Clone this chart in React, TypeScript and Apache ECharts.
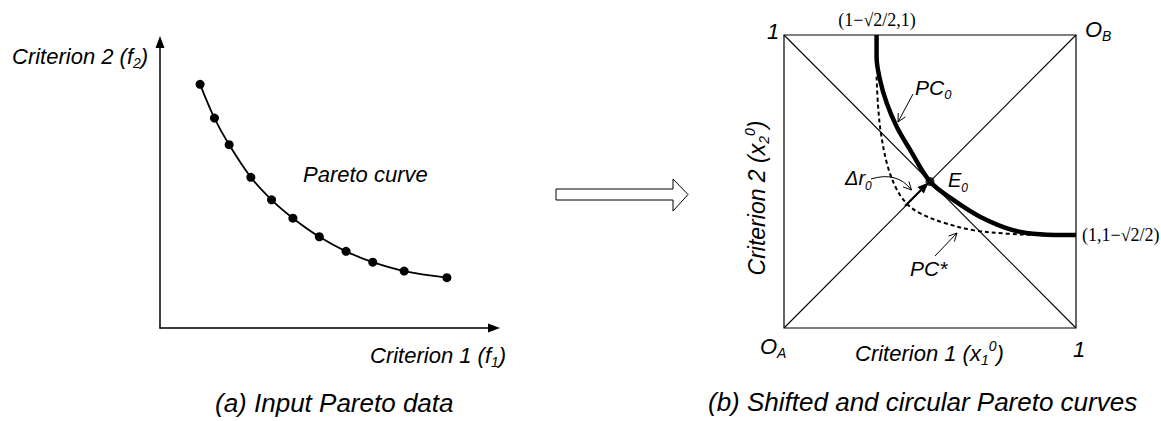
import React, { useEffect, useRef } from "react";
import * as echarts from "echarts";

// ---- data ----
// (a) input Pareto data, axis units 0..10
const paretoF1 = [1.2, 1.63, 2.07, 2.72, 3.34, 3.98, 4.77, 5.57, 6.37, 7.31, 8.59];
const paretoF2 = [8.52, 7.34, 6.41, 5.27, 4.48, 3.84, 3.19, 2.68, 2.3, 1.99, 1.76];

// (b) normalized box 0..1
const pc0X = [0.317, 0.317, 0.329, 0.352, 0.386, 0.432, 0.5, 0.58, 0.671, 0.784, 0.877, 1.0];
const pc0Y = [1.0, 0.926, 0.846, 0.767, 0.687, 0.608, 0.5, 0.437, 0.38, 0.334, 0.32, 0.317];

const pcStarX = [0.317, 0.322, 0.332, 0.354, 0.385, 0.42, 0.465, 0.545, 0.648, 0.763, 0.877, 0.95];
const pcStarY = [0.858, 0.76, 0.664, 0.556, 0.475, 0.425, 0.392, 0.36, 0.334, 0.322, 0.317, 0.316];

const diagA = [[0, 0], [1, 1]];
const diagB = [[0, 1], [1, 0]];
const equilibrium = [[0.5, 0.5]];

const zip = (a: number[], b: number[]) => a.map((v, i) => [v, b[i]]);

const SANS = "Liberation Sans, Arial, sans-serif";
const SERIF = "Liberation Serif, Times New Roman, serif";

function richFor(size: number) {
  const subSize = Math.round(size * 0.62);
  return {
    m: { fontSize: size, fontStyle: "italic", fontFamily: SANS, fill: "#000", lineHeight: 28 },
    s: { fontSize: subSize, fontStyle: "italic", fontFamily: SANS, fill: "#000", lineHeight: 20, verticalAlign: "bottom" },
    p: { fontSize: subSize, fontStyle: "italic", fontFamily: SANS, fill: "#000", lineHeight: 8, verticalAlign: "top" },
  };
}

function label(x: number, y: number, text: string, size: number, extra: any = {}) {
  return {
    type: "text",
    x,
    y,
    z: 100,
    ...extra,
    style: {
      text,
      fill: "#000",
      fontSize: size,
      fontStyle: "italic",
      fontFamily: SANS,
      align: extra.align || "left",
      verticalAlign: "middle",
      rich: richFor(size),
    },
  };
}

function mathLabel(x: number, y: number, text: string, align: string) {
  return {
    type: "text",
    x,
    y,
    z: 100,
    style: { text, fill: "#000", fontSize: 18, fontFamily: SERIF, align, verticalAlign: "middle" },
  };
}

function arrow(x1: number, y1: number, x2: number, y2: number, len: number, half: number, filled: boolean, lw: number) {
  const dx = x2 - x1, dy = y2 - y1;
  const L = Math.hypot(dx, dy);
  const ux = dx / L, uy = dy / L;
  const bx = x2 - ux * len, by = y2 - uy * len;
  const lx = bx + uy * half, ly = by - ux * half;
  const rx = bx - uy * half, ry = by + ux * half;
  const els: any[] = [
    { type: "line", z: 100, shape: { x1, y1, x2: filled ? bx : x2, y2: filled ? by : y2 }, style: { stroke: "#000", lineWidth: lw } },
  ];
  if (filled) {
    els.push({ type: "polygon", z: 100, shape: { points: [[x2, y2], [lx, ly], [rx, ry]] }, style: { fill: "#000" } });
  } else {
    els.push({ type: "polyline", z: 100, shape: { points: [[lx, ly], [x2, y2], [rx, ry]] }, style: { stroke: "#000", lineWidth: lw, fill: null } });
  }
  return els;
}

function openHead(fromX: number, fromY: number, x2: number, y2: number, len: number, half: number, lw: number) {
  const dx = x2 - fromX, dy = y2 - fromY;
  const L = Math.hypot(dx, dy);
  const ux = dx / L, uy = dy / L;
  const bx = x2 - ux * len, by = y2 - uy * len;
  return {
    type: "polyline",
    z: 100,
    shape: { points: [[bx + uy * half, by - ux * half], [x2, y2], [bx - uy * half, by + ux * half]] },
    style: { stroke: "#000", lineWidth: lw, fill: null },
  };
}

const hiddenAxis = {
  axisTick: { show: false },
  axisLabel: { show: false },
  splitLine: { show: false },
};

function buildOption() {
  const graphic: any[] = [
    // panel (a) labels
    label(12, 56, "{m|Criterion 2 (f}{s|2}{m|)}", 22),
    label(303, 174, "Pareto curve", 22),
    label(370, 355, "{m|Criterion 1 (f}{s|1}{m|)}", 22),
    label(215, 403, "(a) Input Pareto data", 26),
    // block arrow between panels
    {
      type: "polygon",
      z: 100,
      shape: { points: [[556, 189], [673, 189], [673, 179], [688, 194.5], [673, 211], [673, 200], [556, 200]] },
      style: { fill: "#fff", stroke: "#000", lineWidth: 1 },
    },
    // panel (b) labels
    label(767, 31, "1", 22),
    label(1085, 29, "{m|O}{s|B}", 22),
    label(760, 346, "{m|O}{s|A}", 22),
    label(1073, 349, "1", 22),
    label(855, 353, "{m|Criterion 1 (x}{s|1}{p|0}{m|)}", 22),
    label(757, 198, "{m|Criterion 2 (x}{s|2}{p|0}{m|)}", 23, { rotation: Math.PI / 2, align: "center" }),
    label(708, 402, "(b) Shifted and circular Pareto curves", 26),
    mathLabel(877, 20, "(1−√2/2,1)", "center"),
    mathLabel(1082, 235, "(1,1−√2/2)", "left"),
    label(915, 87, "{m|PC}{s|0}", 21),
    label(910, 268, "PC*", 21),
    label(948, 180, "{m|E}{s|0}", 20),
    label(845, 178, "{m|Δr}{s|0}", 20),
    // pointer arrows
    ...arrow(913, 94, 898, 122, 8, 4, false, 1),
    ...arrow(935, 256, 957, 233, 8, 4, false, 1),
    ...arrow(905, 206, 928.5, 182.5, 11, 4.5, true, 2),
    {
      type: "bezierCurve",
      z: 100,
      shape: { x1: 871, y1: 179, x2: 911.5, y2: 190, cpx1: 897, cpy1: 171 },
      style: { stroke: "#000", lineWidth: 1, fill: null },
    },
    openHead(902, 180, 911.5, 190, 8, 4, 1),
  ];

  return {
    animation: false,
    backgroundColor: "#fff",
    grid: [
      { left: 160, top: 42, width: 334, height: 286, show: false },
      { left: 784, top: 35, width: 292, height: 293, show: true, borderColor: "#000", borderWidth: 1.2, backgroundColor: "transparent" },
    ],
    xAxis: [
      {
        gridIndex: 0, type: "value", min: 0, max: 10,
        axisLine: { show: true, onZero: false, symbol: ["none", "triangle"], symbolSize: [9, 12], lineStyle: { color: "#000", width: 1.5 } },
        ...hiddenAxis,
      },
      { gridIndex: 1, type: "value", min: 0, max: 1, axisLine: { show: false }, ...hiddenAxis },
    ],
    yAxis: [
      {
        gridIndex: 0, type: "value", min: 0, max: 10,
        axisLine: { show: true, onZero: false, symbol: ["none", "triangle"], symbolSize: [9, 12], lineStyle: { color: "#000", width: 1.5 } },
        ...hiddenAxis,
      },
      { gridIndex: 1, type: "value", min: 0, max: 1, axisLine: { show: false }, ...hiddenAxis },
    ],
    series: [
      {
        type: "line", xAxisIndex: 0, yAxisIndex: 0, data: zip(paretoF1, paretoF2), smooth: 0.35,
        symbol: "circle", symbolSize: 9, showSymbol: true,
        itemStyle: { color: "#000" }, lineStyle: { color: "#000", width: 1.8 },
      },
      { type: "line", xAxisIndex: 1, yAxisIndex: 1, data: diagA, symbol: "none", lineStyle: { color: "#000", width: 1.1 } },
      { type: "line", xAxisIndex: 1, yAxisIndex: 1, data: diagB, symbol: "none", lineStyle: { color: "#000", width: 1.1 } },
      {
        type: "line", xAxisIndex: 1, yAxisIndex: 1, data: zip(pcStarX, pcStarY), smooth: 0.35, symbol: "none",
        lineStyle: { color: "#000", width: 2, type: [4, 3] },
      },
      {
        type: "line", xAxisIndex: 1, yAxisIndex: 1, data: zip(pc0X, pc0Y), smooth: 0.35, symbol: "none",
        lineStyle: { color: "#000", width: 4.5 },
      },
      {
        type: "scatter", xAxisIndex: 1, yAxisIndex: 1, data: equilibrium, symbol: "circle", symbolSize: 9,
        itemStyle: { color: "#000" }, z: 5,
      },
    ],
    graphic,
  };
}

export default function App() {
  const ref = useRef<HTMLDivElement>(null);
  useEffect(() => {
    document.body.style.margin = "0";
    const chart = echarts.init(ref.current!, null, { renderer: "svg", width: 1161, height: 421 });
    chart.setOption(buildOption() as any);
    return () => chart.dispose();
  }, []);
  return <div ref={ref} style={{ width: 1161, height: 421, background: "#fff" }} />;
}
